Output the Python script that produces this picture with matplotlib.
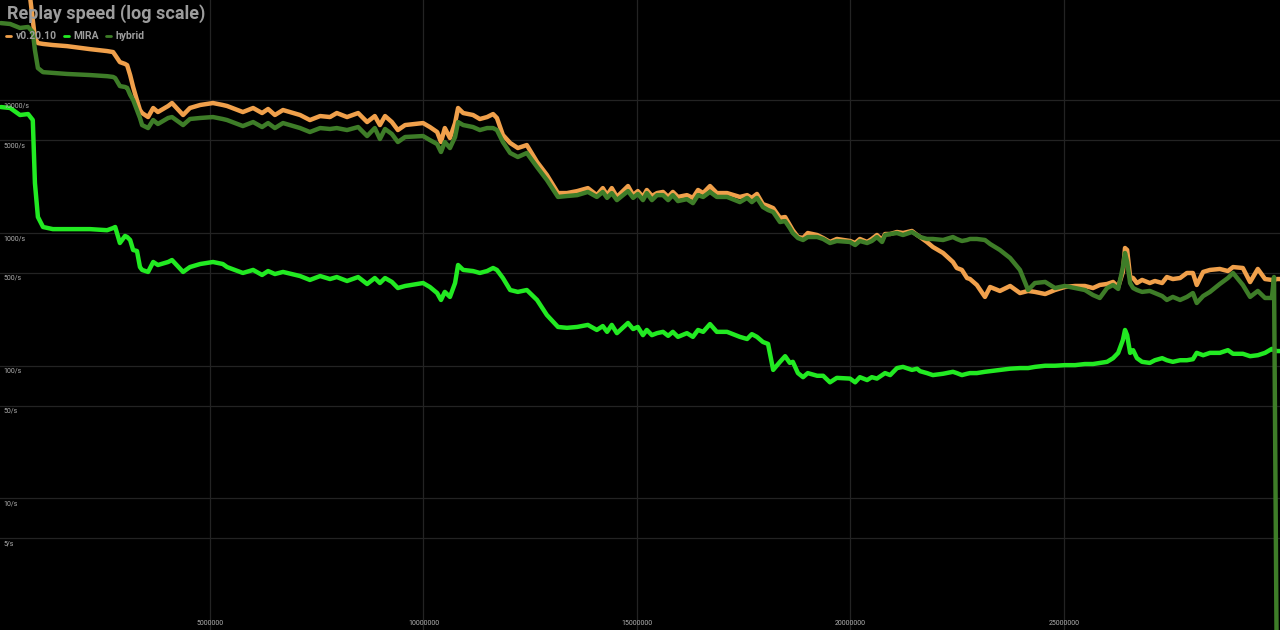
import matplotlib
matplotlib.use("Agg")
import matplotlib.pyplot as plt
import matplotlib.transforms as mtransforms
import numpy as np

# replayed operations, in millions
ops_m = [0.10, 0.32, 0.55, 0.74, 0.85, 0.90, 0.97, 1.09, 1.32, 1.65,
         2.19, 2.59, 2.73, 2.78, 2.89, 3.01, 3.06, 3.13, 3.20, 3.29,
         3.36, 3.41, 3.55, 3.67, 3.78, 4.02, 4.11, 4.37, 4.53, 4.77,
         5.07, 5.30, 5.40, 5.77, 6.01, 6.22, 6.36, 6.52, 6.71, 7.11,
         7.34, 7.58, 7.81, 7.97, 8.21, 8.47, 8.68, 8.86, 8.98, 9.10,
         9.26, 9.40, 9.57, 9.99, 10.15, 10.32, 10.41, 10.50, 10.62, 10.74,
         10.81, 10.93, 11.16, 11.32, 11.49, 11.63, 11.72, 11.86, 12.03, 12.21,
         12.42, 12.66, 12.89, 13.15, 13.36, 13.60, 13.85, 14.06, 14.20, 14.30,
         14.41, 14.53, 14.79, 14.91, 15.02, 15.14, 15.23, 15.35, 15.47, 15.61,
         15.73, 15.84, 15.96, 16.17, 16.31, 16.43, 16.55, 16.71, 16.87, 17.11,
         17.41, 17.58, 17.69, 17.81, 17.95, 18.07, 18.19, 18.35, 18.47, 18.58,
         18.65, 18.77, 18.89, 19.00, 19.22, 19.36, 19.52, 19.68, 19.99, 20.11,
         20.22, 20.39, 20.50, 20.62, 20.74, 20.81, 20.93, 21.09, 21.23, 21.44,
         21.56, 21.63, 21.79, 21.93, 22.17, 22.40, 22.49, 22.61, 22.73, 22.80,
         22.96, 23.15, 23.27, 23.50, 23.74, 23.97, 24.16, 24.32, 24.56, 24.79,
         25.02, 25.26, 25.49, 25.68, 25.84, 26.01, 26.15, 26.27, 26.38, 26.43,
         26.48, 26.55, 26.62, 26.71, 26.83, 27.01, 27.13, 27.30, 27.41, 27.55,
         27.72, 27.88, 28.02, 28.11, 28.26, 28.42, 28.65, 28.84, 28.96, 29.19,
         29.36, 29.54, 29.71, 29.87, 29.92, 29.99, 30.06]

# replay speed, operations per second
v0_20_10 = [100000, 95000, 90000, 80000, 40300, 29500, 27000, 26600, 26100, 25600,
            24300, 23500, 23100, 21900, 19400, 18800, 18400, 15500, 12600, 10000,
            8450, 8020, 7480, 8750, 8160, 9060, 9540, 7750, 8750, 9220,
            9540, 9220, 9060, 8160, 8750, 8020, 8600, 7750, 8450, 7750,
            7100, 7610, 7480, 8020, 7480, 8020, 6860, 7610, 6510, 7610,
            6860, 5970, 6510, 6740, 6290, 5770, 4850, 6180, 5200, 6740,
            8750, 8020, 7750, 7230, 7480, 7880, 7360, 5480, 4770, 4370,
            4600, 3430, 2740, 2000, 2000, 2070, 2180, 1930, 2180, 1930,
            2180, 1870, 2260, 1930, 2070, 1870, 2110, 1900, 2000, 2040,
            1870, 2040, 1870, 1930, 1840, 2110, 2000, 2260, 2000, 2000,
            1870, 1930, 1840, 1970, 1650, 1600, 1540, 1300, 1320, 1150,
            1050, 933, 917, 1000, 966, 917, 856, 902, 871, 841,
            902, 856, 902, 966, 886, 983, 983, 1018, 1000, 1036,
            966, 933, 856, 785, 707, 605, 545, 527, 458, 450,
            406, 330, 392, 366, 399, 353, 366, 360, 347, 372,
            392, 399, 399, 385, 406, 413, 428, 392, 509, 771,
            745, 466, 458, 420, 443, 420, 435, 420, 466, 450,
            458, 500, 500, 406, 509, 527, 536, 517, 554, 545,
            427, 536, 450, 443, 443, 450, 450]

mira = [8900, 8750, 7750, 7880, 7100, 2380, 1320, 1110, 1070, 1070,
        1070, 1050, 1090, 1110, 841, 950, 933, 886, 745, 732,
        554, 527, 509, 605, 574, 605, 626, 509, 554, 584,
        605, 584, 554, 500, 527, 483, 517, 491, 509, 474,
        443, 474, 450, 466, 435, 466, 413, 458, 420, 458,
        428, 385, 399, 420, 392, 353, 313, 360, 330, 420,
        574, 527, 517, 500, 517, 545, 527, 458, 372, 360,
        372, 313, 241, 196, 193, 196, 203, 186, 199, 180,
        203, 176, 210, 189, 196, 170, 186, 170, 176, 180,
        168, 180, 165, 176, 165, 186, 180, 206, 180, 180,
        165, 159, 173, 165, 151, 146, 93, 107, 118, 105,
        107, 88, 82, 88, 84, 84, 75, 81, 80, 75,
        82, 78, 82, 80, 85, 88, 85, 96, 98, 93,
        95, 91, 88, 85, 87, 90, 88, 85, 87, 88,
        88, 90, 91, 93, 95, 96, 96, 98, 100, 100,
        101, 101, 103, 103, 105, 107, 114, 125, 156, 186,
        170, 125, 131, 114, 107, 105, 110, 114, 110, 107,
        110, 110, 112, 125, 120, 125, 125, 131, 123, 123,
        118, 120, 125, 134, 131, 129, 129]

hybrid = [38200, 37600, 35100, 35700, 32700, 23900, 17500, 16300, 16100, 15800,
          15500, 15200, 15000, 14700, 12800, 12600, 12400, 11000, 10050, 8450,
          7360, 6510, 6180, 7100, 6630, 7360, 7480, 6510, 7230, 7360,
          7480, 7230, 7100, 6400, 6860, 6290, 6740, 6180, 6740, 6180,
          5770, 6180, 6080, 6180, 5970, 6290, 5380, 6180, 5110, 6080,
          5570, 4850, 5290, 5380, 5020, 4680, 4080, 4850, 4370, 5290,
          6860, 6510, 6290, 5970, 6180, 6180, 5970, 4850, 4010, 3740,
          4010, 3140, 2510, 1870, 1900, 1930, 2040, 1870, 2040, 1840,
          2000, 1770, 2070, 1840, 1970, 1770, 2000, 1770, 1930, 1930,
          1770, 1930, 1740, 1800, 1680, 1930, 1870, 2040, 1870, 1870,
          1710, 1840, 1710, 1840, 1570, 1490, 1440, 1210, 1230, 1090,
          1000, 917, 886, 933, 933, 902, 841, 871, 856, 812,
          871, 841, 871, 933, 856, 966, 983, 1000, 966, 1018,
          966, 933, 902, 902, 886, 933, 902, 871, 886, 902,
          902, 886, 827, 745, 648, 527, 372, 420, 428, 385,
          399, 385, 372, 341, 324, 385, 406, 379, 554, 707,
          605, 420, 385, 372, 360, 366, 353, 335, 313, 330,
          313, 330, 353, 297, 335, 360, 413, 458, 500, 406,
          330, 366, 324, 324, 466, 0.3, 0.3]

series_names = ["v0.20.10", "MIRA", "hybrid"]
series_colors = ["#f0a04b", "#22ea22", "#3e7d28"]

ytick_vals = [5, 10, 50, 100, 500, 1000, 5000, 10000]
xtick_vals = [5000000, 10000000, 15000000, 20000000, 25000000]

fig = plt.figure(figsize=(12.8, 6.3), dpi=100, facecolor="black")
ax = fig.add_axes([0, 0, 1, 1])
ax.set_facecolor("black")

x = np.array(ops_m) * 1e6
for vals, name, col in zip([v0_20_10, mira, hybrid], series_names, series_colors):
    ax.plot(x, vals, color=col, lw=3.2, label=name,
            solid_joinstyle="round", solid_capstyle="round")

ax.set_yscale("log")
ax.set_ylim(1.02, 57000)
ax.set_xlim(82000, 30060000)

ax.set_yticks(ytick_vals)
ax.set_xticks(xtick_vals)
ax.yaxis.set_minor_locator(matplotlib.ticker.NullLocator())
ax.tick_params(length=0, labelleft=False, labelbottom=False)
ax.grid(True, color="#232323", lw=0.9)
for s in ax.spines.values():
    s.set_visible(False)

# tick labels sit inside the plot area
ytr = mtransforms.blended_transform_factory(ax.transAxes, ax.transData)
for v in ytick_vals:
    ax.text(0.0025, v, f"{v}/s", transform=ytr
            + mtransforms.ScaledTranslation(0, -2 / 100, fig.dpi_scale_trans),
            fontsize=5.0, color="#b0b0b0", va="top", ha="left", family="Roboto")
xtr = mtransforms.blended_transform_factory(ax.transData, ax.transAxes)
for v in xtick_vals:
    ax.text(v, 0.005, f"{v}", transform=xtr, fontsize=5.0, color="#b0b0b0",
            va="bottom", ha="center", family="Roboto")

fig.text(7 / 1280, 1 - 14 / 630, "Replay speed (log scale)", color="#9c9c9c",
         fontsize=13, fontweight="bold", family="Roboto", va="center", ha="left")

leg = ax.legend(loc="upper left", bbox_to_anchor=(0.0, 1 - 25 / 630), ncol=3,
                frameon=False, handlelength=0.45, handletextpad=0.45,
                columnspacing=0.7, borderaxespad=0.2,
                prop={"family": "Roboto", "weight": "bold", "size": 7.5})
for t in leg.get_texts():
    t.set_color("#9c9c9c")
for h in leg.get_lines():
    h.set_linewidth(2.0)

fig.savefig("out.png", dpi=100, facecolor="black")
